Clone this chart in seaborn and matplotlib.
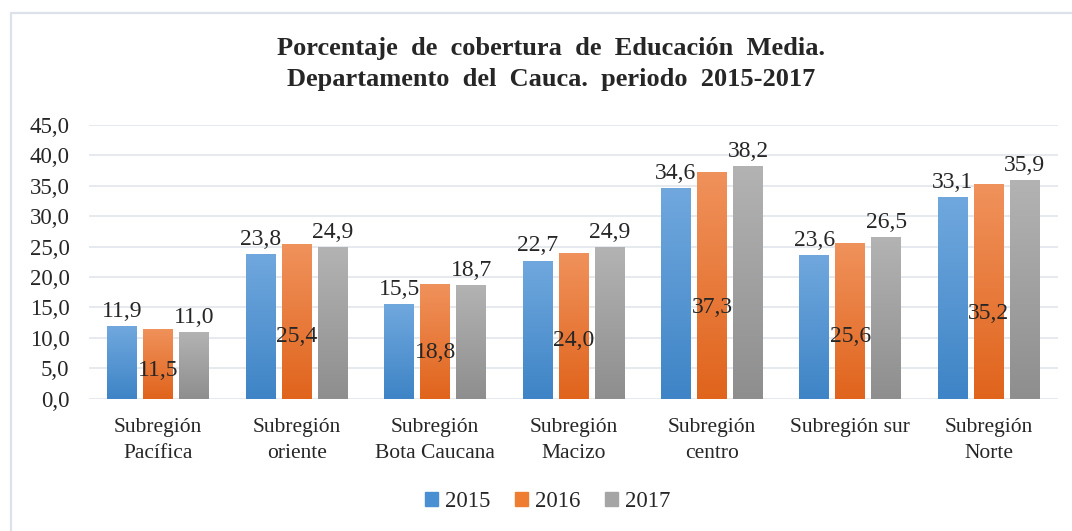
import numpy as np
import pandas as pd
import seaborn as sns
import matplotlib.pyplot as plt
from matplotlib.colors import LinearSegmentedColormap
from matplotlib.lines import Line2D

# Data
categories = ["Subregión\nPacífica", "Subregión\noriente", "Subregión\nBota Caucana",
              "Subregión\nMacizo", "Subregión\ncentro", "Subregión sur", "Subregión\nNorte"]
years = ["2015", "2016", "2017"]
v2015 = [11.9, 23.8, 15.5, 22.7, 34.6, 23.6, 33.1]
v2016 = [11.5, 25.4, 18.8, 24.0, 37.3, 25.6, 35.2]
v2017 = [11.0, 24.9, 18.7, 24.9, 38.2, 26.5, 35.9]
yticks = np.arange(0, 50, 5)

df = pd.DataFrame({
    "region": categories * 3,
    "year": [y for y in years for _ in categories],
    "value": v2015 + v2016 + v2017,
})

sns.set_style("white")
plt.rcParams["font.family"] = ["Liberation Serif", "DejaVu Serif"]

legend_colors = {"2015": "#4a8fd2", "2016": "#ee7d31", "2017": "#a5a5a5"}
grad = {"2015": ("#3e84c6", "#70a8de"),
        "2016": ("#e0641c", "#f0925c"),
        "2017": ("#8e8e8e", "#b3b3b3")}

fig = plt.figure(figsize=(10.72, 5.31), dpi=100)
ax = fig.add_axes([0.083, 0.249, 0.904, 0.516])

sns.barplot(data=df, x="region", y="value", hue="year", palette=legend_colors,
            width=0.78, gap=0.17, ax=ax, legend=False, errorbar=None)

# gradient fill for each bar, clipped to the bar shape
grad_img = np.linspace(0, 1, 256).reshape(-1, 1)
for container, year in zip(ax.containers, years):
    cmap = LinearSegmentedColormap.from_list(year, grad[year])
    for bar in container:
        x0, w, h = bar.get_x(), bar.get_width(), bar.get_height()
        bar.set_facecolor("none")
        bar.set_edgecolor("none")
        im = ax.imshow(grad_img, extent=[x0, x0 + w, 0, h], origin="lower",
                       aspect="auto", cmap=cmap, zorder=2)
        im.set_clip_path(bar)

# value labels: 2015/2017 above bars, 2016 inside the bar
for container, year in zip(ax.containers, years):
    for bar in container:
        xc = bar.get_x() + bar.get_width() / 2
        h = bar.get_height()
        txt = f"{h:.1f}".replace(".", ",")
        if year == "2016":
            ax.text(xc, h * 0.40, txt, ha="center", va="center", fontsize=17, zorder=5)
        else:
            ax.annotate(txt, (xc, h), xytext=(0, 3), textcoords="offset points",
                        ha="center", va="bottom", fontsize=17, zorder=5)

ax.set_xlim(-0.5, len(categories) - 0.5)
ax.set_ylim(0, 45)
ax.set_yticks(yticks)
ax.set_yticklabels([f"{t:.1f}".replace(".", ",") for t in yticks])
ax.yaxis.grid(True, color="#e1e5eb", linewidth=1.2, zorder=0)
ax.set_axisbelow(True)
for s in ax.spines.values():
    s.set_visible(False)
ax.tick_params(axis="both", length=0)
ax.tick_params(axis="y", pad=14, labelsize=16.5)
ax.tick_params(axis="x", pad=14, labelsize=15.5)
for lbl in ax.get_xticklabels():
    lbl.set_linespacing(1.45)
ax.set_xlabel("")
ax.set_ylabel("")

# legend
handles = [plt.Rectangle((0, 0), 1, 1, color=legend_colors[y]) for y in years]
fig.legend(handles, years, loc="center", bbox_to_anchor=(0.511, 0.055), ncol=3,
           frameon=False, fontsize=16.5, handlelength=0.55, handleheight=0.55,
           handletextpad=0.3, columnspacing=1.1)

fig.suptitle("Porcentaje  de  cobertura  de  Educación  Media.\nDepartamento  del  Cauca.  periodo  2015-2017",
             x=0.514, y=0.93, fontsize=19, fontweight="bold", linespacing=1.45, va="top")

# light chart frame
fig.add_artist(Line2D([11 / 1072, 11 / 1072], [0, 1 - 13 / 531], transform=fig.transFigure,
                      color="#dce2ea", linewidth=1.6))
fig.add_artist(Line2D([11 / 1072, 1], [1 - 13 / 531, 1 - 13 / 531], transform=fig.transFigure,
                      color="#dce2ea", linewidth=1.6))

fig.savefig("out.png", dpi=100)
